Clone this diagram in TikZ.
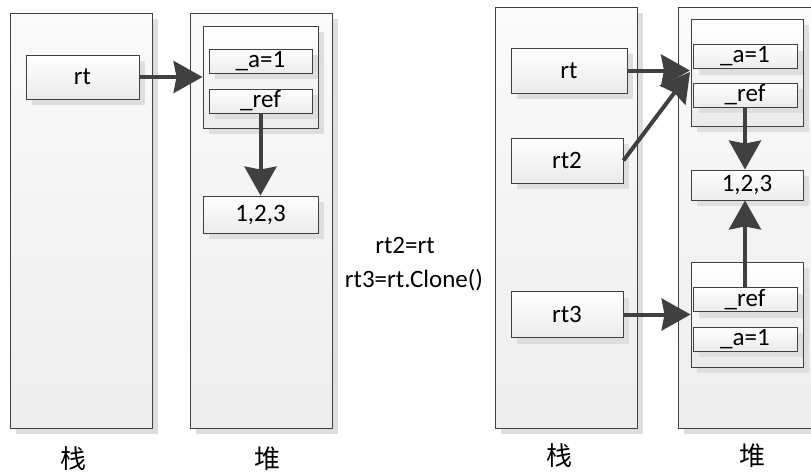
\documentclass[tikz,border=0pt]{standalone}
\usepackage{fontspec}
\setmainfont{Carlito}
\newfontfamily\cjk{Noto Sans CJK SC}
\usetikzlibrary{arrows.meta,shadows}
\definecolor{edge}{HTML}{404040}
\definecolor{shade}{HTML}{DEDEDE}
\tikzset{
  base/.style={draw=edge, line width=0.9pt, inner sep=0pt,
    drop shadow={shadow xshift=6pt, shadow yshift=-6pt, fill=shade, opacity=1},
    font=\fontsize{25}{29}\selectfont},
  panel/.style={base, rectangle, top color=white!98!black, bottom color=white!93!black,
    minimum width=142pt, minimum height=#1},
  box/.style={base, rectangle, top color=white, bottom color=white!92!black},
  ptr/.style={draw=edge, line width=4pt,
    -{Stealth[length=29pt, width=32pt, inset=3pt]}},
  lbl/.style={font=\fontsize{25}{29}\selectfont},
  cjklbl/.style={font=\cjk\fontsize{26}{30}\selectfont}
}
\begin{document}
\begin{tikzpicture}[x=1pt, y=-1pt]
\useasboundingbox (0,0) rectangle (811,475);

% ---- before the copy: stack and heap ----
\node[panel=415pt] (stackL) at (81,220.5) {};
\node[panel=415pt] (heapL) at (261,220.5) {};
\node[box, minimum width=113pt, minimum height=44pt] (rtL) at (82.5,77) {rt};
\node[box, minimum width=115pt, minimum height=102pt] (objL) at (260.5,77) {};
\node[box, minimum width=103pt, minimum height=24pt] (aL) at (260.5,61) {\_a=1};
\node[box, minimum width=103pt, minimum height=24pt] (refL) at (260.5,101) {\_ref};
\node[box, minimum width=115pt, minimum height=37pt] (numL) at (260.5,214.5) {1,2,3};

\draw[ptr] (rtL.east) -- (objL.west);
\draw[ptr] (refL.south) -- (numL.north);

\node[cjklbl] (stackLbl) at (73,459) {栈};
\node[cjklbl] (heapLbl) at (267,459) {堆};

% ---- statements ----
\node[lbl] (s1) at (405,245) {rt2=rt};
\node[lbl] (s2) at (414,280) {rt3=rt.Clone()};

% ---- after the copy: stack and heap ----
\node[panel=421pt] (stackR) at (566,217.5) {};
\node[panel=421pt] (heapR) at (749,217.5) {};
\node[box, minimum width=116pt, minimum height=45pt] (rtR) at (569,70.5) {rt};
\node[box, minimum width=112pt, minimum height=45pt] (rt2) at (567,160.5) {rt2};
\node[box, minimum width=112pt, minimum height=46pt] (rt3) at (567,314.5) {rt3};

\node[box, minimum width=112pt, minimum height=107pt] (objA) at (747,72.5) {};
\node[box, minimum width=104pt, minimum height=24pt] (aA) at (745,56.5) {\_a=1};
\node[box, minimum width=104pt, minimum height=24pt] (refA) at (745,95) {\_ref};
\node[box, minimum width=112pt, minimum height=30pt] (numR) at (747,185) {1,2,3};
\node[box, minimum width=112pt, minimum height=105pt] (objB) at (747,314.5) {};
\node[box, minimum width=104pt, minimum height=24pt] (refB) at (745,299.5) {\_ref};
\node[box, minimum width=104pt, minimum height=24pt] (aB) at (745,339) {\_a=1};

\coordinate (hit) at (690,72);
\draw[ptr] (rtR.east) -- (rtR.east -| hit);
\draw[ptr] (rt2.east) -- (hit);
\draw[ptr] (rt3.east) -- (rt3.east -| objB.west);
\draw[ptr] (refA.south) -- (refA.south |- numR.north);
\draw[ptr] (refB.north) -- (refB.north |- numR.south);

\node[cjklbl] (stackRLbl) at (559,456) {栈};
\node[cjklbl] (heapRLbl) at (752,456) {堆};
\end{tikzpicture}
\end{document}
